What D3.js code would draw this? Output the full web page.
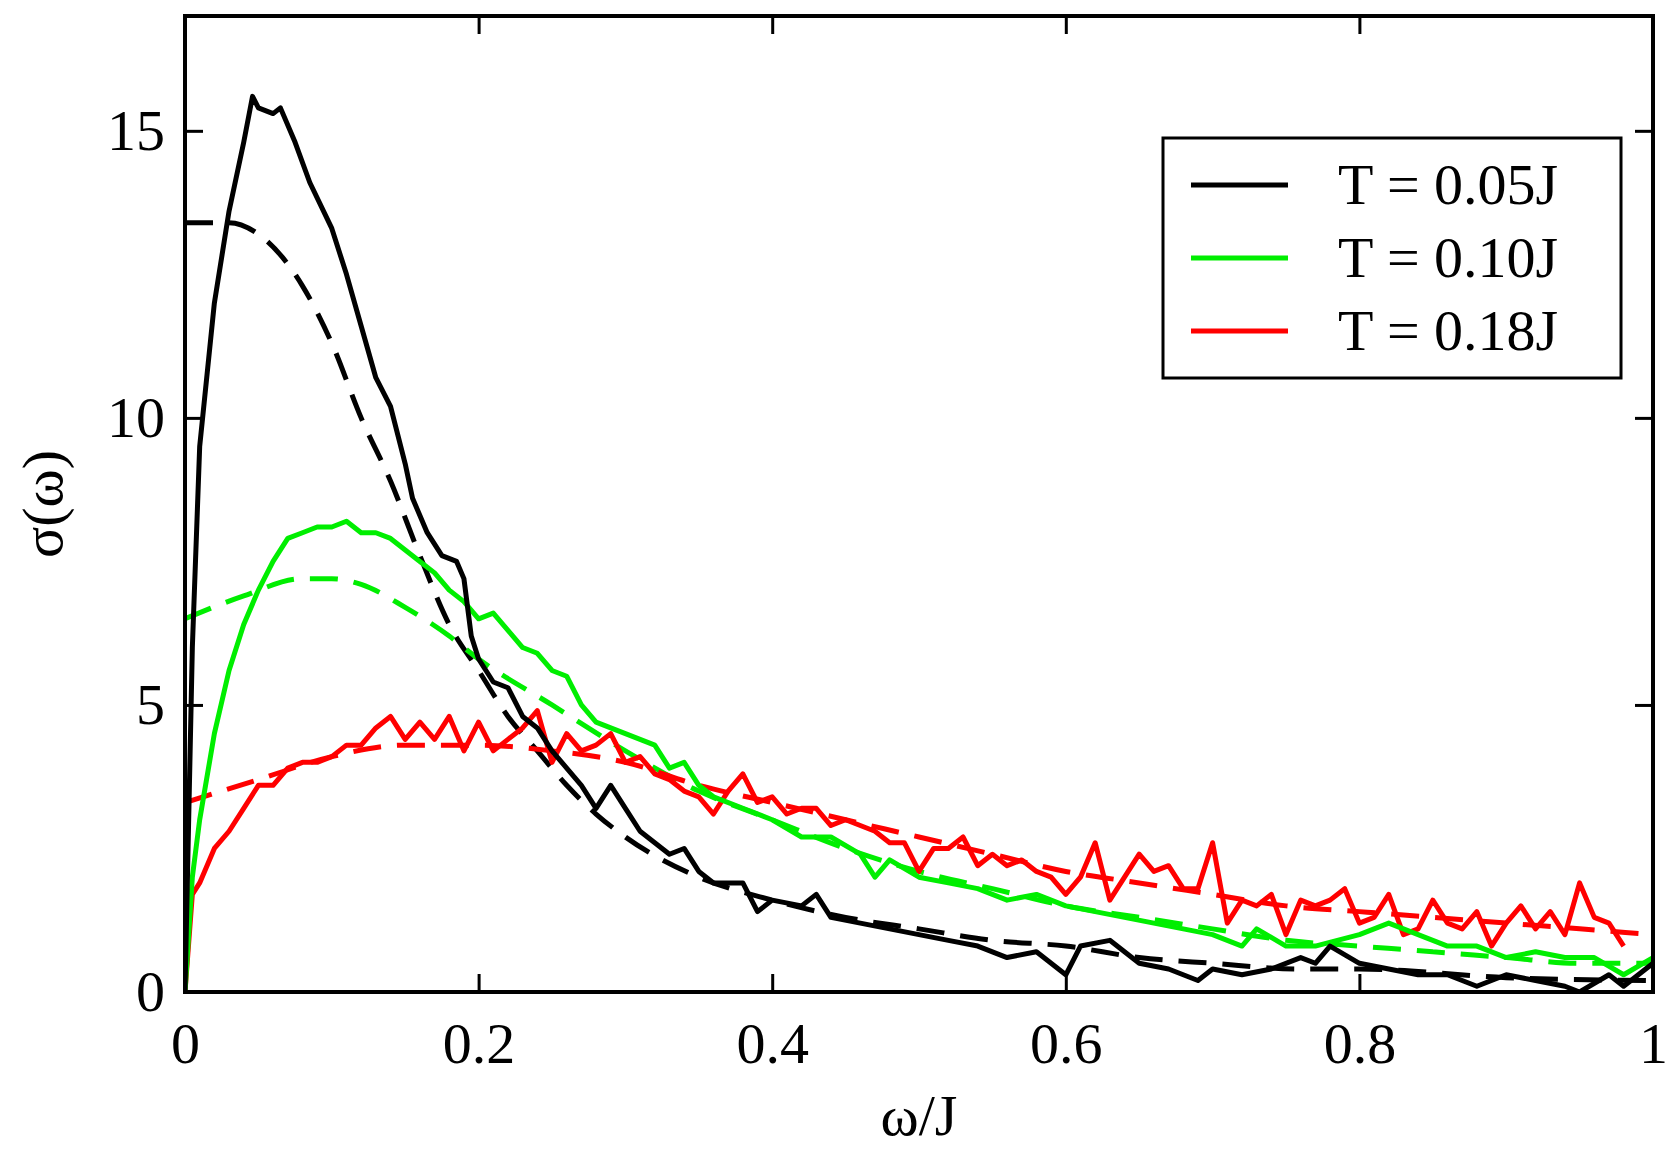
<!DOCTYPE html>
<html><head><meta charset="utf-8">
<script src="https://cdn.jsdelivr.net/npm/d3@7"></script>
<style>body{margin:0;background:#fff}</style>
</head><body>
<svg id="c" width="1678" height="1149"></svg>
<script>
// omega/J , sigma(omega)
var blackX = [0,0.005,0.01,0.02,0.03,0.04,0.046,0.05,0.06,0.065,0.075,0.085,0.1,0.11,0.12,0.13,0.14,0.15,0.155,0.165,0.175,0.185,0.19,0.195,0.2,0.21,0.22,0.23,0.24,0.25,0.26,0.27,0.28,0.29,0.3,0.31,0.32,0.33,0.34,0.35,0.36,0.38,0.39,0.4,0.42,0.43,0.44,0.46,0.48,0.5,0.52,0.54,0.56,0.58,0.6,0.61,0.63,0.65,0.67,0.69,0.7,0.72,0.74,0.76,0.77,0.78,0.8,0.82,0.84,0.86,0.88,0.9,0.92,0.94,0.95,0.97,0.98,1.0];
var blackY = [0,6,9.5,12,13.6,14.8,15.6,15.4,15.3,15.4,14.8,14.1,13.3,12.5,11.6,10.7,10.2,9.2,8.6,8.0,7.6,7.5,7.2,6.2,5.8,5.4,5.3,4.8,4.6,4.2,3.9,3.6,3.2,3.6,3.2,2.8,2.6,2.4,2.5,2.1,1.9,1.9,1.4,1.6,1.5,1.7,1.3,1.2,1.1,1.0,0.9,0.8,0.6,0.7,0.3,0.8,0.9,0.5,0.4,0.2,0.4,0.3,0.4,0.6,0.5,0.8,0.5,0.4,0.3,0.3,0.1,0.3,0.2,0.1,0.0,0.3,0.1,0.5];
var blackFitX = [0,0.03,0.05,0.08,0.1,0.12,0.14,0.16,0.18,0.2,0.22,0.24,0.26,0.28,0.3,0.35,0.4,0.45,0.5,0.55,0.6,0.65,0.7,0.76,0.8,0.9,1.0];
var blackFitY = [13.4,13.4,13.2,12.3,11.3,10.0,8.9,7.6,6.4,5.6,4.8,4.2,3.6,3.1,2.7,2.0,1.6,1.3,1.1,0.9,0.8,0.6,0.5,0.4,0.4,0.25,0.2];

var greenX = [0,0.005,0.01,0.02,0.03,0.04,0.05,0.06,0.07,0.08,0.09,0.1,0.11,0.12,0.13,0.14,0.15,0.16,0.17,0.18,0.19,0.2,0.21,0.22,0.23,0.24,0.25,0.26,0.27,0.28,0.3,0.32,0.33,0.34,0.35,0.36,0.38,0.4,0.42,0.44,0.46,0.47,0.48,0.5,0.52,0.54,0.56,0.58,0.6,0.62,0.64,0.66,0.68,0.7,0.72,0.73,0.75,0.77,0.8,0.82,0.84,0.86,0.88,0.9,0.92,0.94,0.96,0.98,1.0];
var greenY = [0,2,3,4.5,5.6,6.4,7.0,7.5,7.9,8.0,8.1,8.1,8.2,8.0,8.0,7.9,7.7,7.5,7.3,7.0,6.8,6.5,6.6,6.3,6.0,5.9,5.6,5.5,5.0,4.7,4.5,4.3,3.9,4.0,3.6,3.4,3.2,3.0,2.7,2.7,2.4,2.0,2.3,2.0,1.9,1.8,1.6,1.7,1.5,1.4,1.3,1.2,1.1,1.0,0.8,1.1,0.8,0.8,1.0,1.2,1.0,0.8,0.8,0.6,0.7,0.6,0.6,0.3,0.6];
var greenFitX = [0,0.04,0.08,0.1,0.12,0.15,0.18,0.2,0.25,0.3,0.35,0.4,0.45,0.5,0.55,0.6,0.65,0.7,0.75,0.8,0.85,0.9,0.95,1.0];
var greenFitY = [6.5,6.9,7.2,7.2,7.1,6.7,6.2,5.8,5.0,4.2,3.5,3.0,2.5,2.1,1.8,1.5,1.3,1.1,0.9,0.8,0.7,0.6,0.5,0.5];

var redX = [0,0.005,0.01,0.02,0.03,0.04,0.05,0.06,0.07,0.08,0.09,0.1,0.11,0.12,0.13,0.14,0.15,0.16,0.17,0.18,0.19,0.2,0.21,0.22,0.23,0.24,0.25,0.26,0.27,0.28,0.29,0.3,0.31,0.32,0.33,0.34,0.35,0.36,0.37,0.38,0.39,0.4,0.41,0.42,0.43,0.44,0.45,0.46,0.47,0.48,0.49,0.5,0.51,0.52,0.53,0.54,0.55,0.56,0.57,0.58,0.59,0.6,0.61,0.62,0.63,0.64,0.65,0.66,0.67,0.68,0.69,0.7,0.71,0.72,0.73,0.74,0.75,0.76,0.77,0.78,0.79,0.8,0.81,0.82,0.83,0.84,0.85,0.86,0.87,0.88,0.89,0.9,0.91,0.92,0.93,0.94,0.95,0.96,0.97,0.98];
var redY = [0,1.7,1.9,2.5,2.8,3.2,3.6,3.6,3.9,4.0,4.0,4.1,4.3,4.3,4.6,4.8,4.4,4.7,4.4,4.8,4.2,4.7,4.2,4.4,4.6,4.9,4.0,4.5,4.2,4.3,4.5,4.0,4.1,3.8,3.7,3.5,3.4,3.1,3.5,3.8,3.3,3.4,3.1,3.2,3.2,2.9,3.0,2.9,2.8,2.6,2.6,2.1,2.5,2.5,2.7,2.2,2.4,2.2,2.3,2.1,2.0,1.7,2.0,2.6,1.6,2.0,2.4,2.1,2.2,1.8,1.8,2.6,1.2,1.6,1.5,1.7,1.0,1.6,1.5,1.6,1.8,1.2,1.3,1.7,1.0,1.1,1.6,1.2,1.1,1.4,0.8,1.2,1.5,1.1,1.4,1.0,1.9,1.3,1.2,0.8];
var redFitX = [0,0.05,0.1,0.15,0.2,0.25,0.3,0.35,0.4,0.45,0.5,0.55,0.6,0.65,0.7,0.75,0.8,0.85,0.9,0.95,1.0];
var redFitY = [3.3,3.7,4.1,4.3,4.3,4.2,4.0,3.6,3.3,3.0,2.7,2.4,2.1,1.9,1.7,1.5,1.4,1.3,1.2,1.1,1.0];

var legendLabels = ["T = 0.05J","T = 0.10J","T = 0.18J"];
var colors = ["#000000","#00ee00","#ff0000"];
var xTicks = [0,0.2,0.4,0.6,0.8,1];
var yTicks = [0,5,10,15];

var L = 185, R = 1653, T = 16, B = 992;
var svg = d3.select('#c');
var font = 'Liberation Serif, Times New Roman, serif';
var x = d3.scaleLinear().domain([0,1]).range([L,R]);
var y = d3.scaleLinear().domain([0,17]).range([B,T]);

var g = svg.append('g');
svg.append('clipPath').attr('id','clip').append('rect').attr('x',L).attr('y',T).attr('width',R-L).attr('height',B-T);

function zip(xs,ys){ return xs.map(function(v,i){return [v,ys[i]];}); }
var line = d3.line().x(function(d){return x(d[0]);}).y(function(d){return y(d[1]);});
var smooth = d3.line().curve(d3.curveMonotoneX).x(function(d){return x(d[0]);}).y(function(d){return y(d[1]);});

var series = [
    {d:zip(blackFitX,blackFitY), c:colors[0], dash:true},
    {d:zip(greenFitX,greenFitY), c:colors[1], dash:true},
    {d:zip(redFitX,redFitY), c:colors[2], dash:true},
    {d:zip(redX,redY), c:colors[2]},
    {d:zip(greenX,greenY), c:colors[1]},
    {d:zip(blackX,blackY), c:colors[0]}
];
series.forEach(function(s){
    g.append('path').attr('d',(s.dash?smooth:line)(s.d))
        .attr('fill','none').attr('stroke',s.c).attr('stroke-width',5)
        .attr('stroke-linejoin','round')
        .attr('stroke-dasharray',s.dash?'28,16':null)
        .attr('clip-path','url(#clip)');
});

// axes with inward ticks, mirrored
svg.append('g').attr('transform','translate(0,'+B+')')
    .call(d3.axisBottom(x).tickValues(xTicks).tickSize(-18).tickPadding(30).tickFormat(d3.format('')));
svg.append('g').attr('transform','translate(0,'+T+')')
    .call(d3.axisTop(x).tickValues(xTicks).tickSize(-18).tickFormat(''));
svg.append('g').attr('transform','translate('+L+',0)')
    .call(d3.axisLeft(y).tickValues(yTicks).tickSize(-18).tickPadding(20));
svg.append('g').attr('transform','translate('+R+',0)')
    .call(d3.axisRight(y).tickValues(yTicks).tickSize(-18).tickFormat(''));
svg.selectAll('.domain').remove();
svg.selectAll('.tick line').attr('stroke','#000').attr('stroke-width',3);
svg.selectAll('.tick text').attr('font-family',font).attr('font-size',58).attr('fill','#000');

svg.append('rect').attr('x',L).attr('y',T).attr('width',R-L).attr('height',B-T)
    .attr('fill','none').attr('stroke','#000').attr('stroke-width',4);

svg.append('text').attr('x',(L+R)/2).attr('y',1135).attr('text-anchor','middle')
    .attr('font-family',font).attr('font-size',58).text('ω/J');
svg.append('text').attr('transform','translate(62,504) rotate(-90)').attr('text-anchor','middle')
    .attr('font-family',font).attr('font-size',58).text('σ(ω)');

// legend
svg.append('rect').attr('x',1163).attr('y',138).attr('width',458).attr('height',240)
    .attr('fill','#fff').attr('stroke','#000').attr('stroke-width',3);
legendLabels.forEach(function(t,i){
    var yy = 185 + i*73;
    svg.append('line').attr('x1',1191).attr('x2',1288).attr('y1',yy).attr('y2',yy)
        .attr('stroke',colors[i]).attr('stroke-width',5);
    svg.append('text').attr('x',1338).attr('y',yy+19).attr('font-family',font)
        .attr('font-size',58).text(t);
});
</script>
</body></html>
